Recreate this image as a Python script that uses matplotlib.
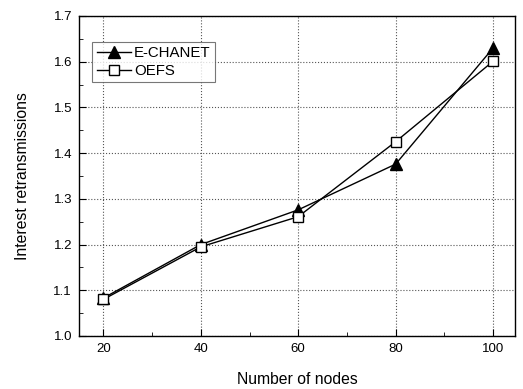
import matplotlib
matplotlib.use('Agg')
import matplotlib.pyplot as plt
from matplotlib.ticker import MultipleLocator

plt.rcParams['font.family'] = ['Liberation Sans', 'DejaVu Sans']

nodes = [20, 40, 60, 80, 100]
echanet = [1.083, 1.2, 1.276, 1.376, 1.63]
oefs = [1.08, 1.195, 1.261, 1.425, 1.601]

fig = plt.figure(figsize=(5.23, 3.89), dpi=100)
ax = fig.add_axes([79/523, 1 - 336/389, (515-79)/523, (336-16)/389])

ax.plot(nodes, echanet, color='black', lw=1, marker='^', ms=8.5,
        mfc='black', mec='black', label='E-CHANET')
ax.plot(nodes, oefs, color='black', lw=1, marker='s', ms=7,
        mfc='white', mec='black', label='OEFS')

ax.set_xlim(15, 104.5)
ax.set_ylim(1.0, 1.7)
ax.xaxis.set_major_locator(MultipleLocator(20))
ax.xaxis.set_minor_locator(MultipleLocator(10))
ax.yaxis.set_major_locator(MultipleLocator(0.1))
ax.yaxis.set_minor_locator(MultipleLocator(0.05))
ax.yaxis.set_major_formatter(matplotlib.ticker.FormatStrFormatter('%.1f'))
ax.tick_params(which='both', direction='in', labelsize=9.5)
ax.tick_params(which='major', length=5, pad=5)
ax.tick_params(which='minor', length=3)
ax.grid(True, which='major', linestyle=':', color='#555555', lw=0.8)

for s in ax.spines.values():
    s.set_linewidth(1)

ax.set_xlabel('Number of nodes', fontsize=11.3, labelpad=12)
ax.set_ylabel('Interest retransmissions', fontsize=11.3, labelpad=17)

leg = ax.legend(loc='upper left', bbox_to_anchor=(0.03, 0.92), fontsize=10.8,
                frameon=True, fancybox=False, edgecolor='#555555',
                handlelength=2.3, borderpad=0.3, labelspacing=0.25,
                handletextpad=0.2, borderaxespad=0)
leg.get_frame().set_linewidth(0.8)

fig.savefig('out.png', dpi=100)
